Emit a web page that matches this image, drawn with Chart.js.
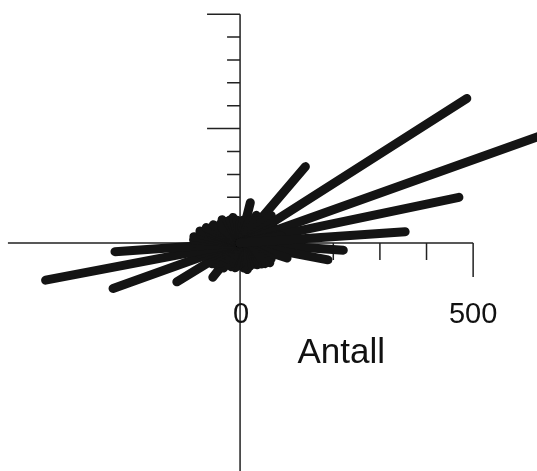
<!DOCTYPE html>
<html>
<head>
<meta charset="utf-8">
<script src="https://cdn.jsdelivr.net/npm/chart.js@4"></script>
<style>
  html, body { margin: 0; padding: 0; background: #fff; overflow: hidden; }
  canvas { display: block; }
</style>
</head>
<body>
<canvas id="roseChart" width="537" height="471"></canvas>
<script>
// retning (grader) og antall for hver stråle
const directions = [4, 10, 12, 20, 25, 33, 42, 45, 50, 55, 60, 68, 76, 83, 90, 97, 105, 113, 120, 127, 133,
                    140, 145, 150, 155, 160, 163, 168, 172, 176, 180,
                    184, 191, 195, 200, 205, 212, 217, 222, 227, 232, 237, 245, 250, 259, 265, 272, 278,
                    285, 292, 298, 303, 308, 315, 320, 326, 333, 342, 349, 356];
const counts     = [355, 90, 480, 720, 80, 580, 90, 70, 218, 60, 70, 55, 91, 50, 45, 50, 58, 55, 55, 64, 60,
                    50, 70, 60, 80, 70, 90, 85, 100, 100, 95,
                    269, 425, 90, 290, 70, 160, 75, 70, 60, 95, 65, 50, 55, 55, 50, 45, 55,
                    60, 55, 50, 55, 60, 65, 70, 77, 75, 106, 192, 222];

const xTicks = [100, 200, 300, 400, 500];
const yTicks = [50, 100, 150, 200, 250, 300, 350, 400, 450, 500];
const xLabels = ['0', '500'];
const axisTitle = 'Antall';

const datasets = directions.map(function (deg, i) {
  const a = deg * Math.PI / 180;
  return {
    data: [{ x: 0, y: 0 }, { x: counts[i] * Math.cos(a), y: counts[i] * Math.sin(a) }],
    showLine: true,
    borderColor: '#141414',
    borderWidth: 9,
    borderCapStyle: 'round',
    pointRadius: 0,
    fill: false
  };
});

const axesPlugin = {
  id: 'axes',
  beforeDatasetsDraw(chart) {
    const ctx = chart.ctx;
    const xs = chart.scales.x, ys = chart.scales.y;
    const x0 = xs.getPixelForValue(0), y0 = ys.getPixelForValue(0);
    ctx.save();
    ctx.strokeStyle = '#222';
    ctx.lineWidth = 1.5;
    ctx.beginPath();
    // y-akse
    ctx.moveTo(x0, ys.getPixelForValue(500));
    ctx.lineTo(x0, chart.height);
    // x-akse
    ctx.moveTo(xs.getPixelForValue(-498), y0);
    ctx.lineTo(xs.getPixelForValue(500), y0);
    yTicks.forEach(function (v) {
      const y = ys.getPixelForValue(v);
      const len = (v % 250 === 0) ? 33 : 13;
      ctx.moveTo(x0 - len, y);
      ctx.lineTo(x0, y);
    });
    xTicks.forEach(function (v) {
      const x = xs.getPixelForValue(v);
      const len = (v === 500) ? 34 : 17;
      ctx.moveTo(x, y0);
      ctx.lineTo(x, y0 + len);
    });
    ctx.stroke();
    ctx.restore();
  },
  afterDraw(chart) {
    const ctx = chart.ctx;
    const xs = chart.scales.x;
    ctx.save();
    ctx.fillStyle = '#111';
    ctx.textAlign = 'center';
    ctx.textBaseline = 'alphabetic';
    ctx.font = '29px "Liberation Sans", Arial, sans-serif';
    ctx.fillText(xLabels[0], xs.getPixelForValue(0) + 1, 323);
    ctx.fillText(xLabels[1], xs.getPixelForValue(500), 323);
    ctx.font = '35px "Liberation Sans", Arial, sans-serif';
    ctx.fillText(axisTitle, xs.getPixelForValue(217), 363);
    ctx.restore();
  }
};

new Chart(document.getElementById('roseChart'), {
  type: 'scatter',
  data: { datasets: datasets },
  options: {
    responsive: false,
    animation: false,
    devicePixelRatio: 1,
    layout: { padding: 0 },
    plugins: {
      legend: { display: false },
      tooltip: { enabled: false }
    },
    scales: {
      x: { display: false, min: -515, max: 637 },
      y: { display: false, min: -498, max: 531 }
    }
  },
  plugins: [axesPlugin]
});
</script>
</body>
</html>
